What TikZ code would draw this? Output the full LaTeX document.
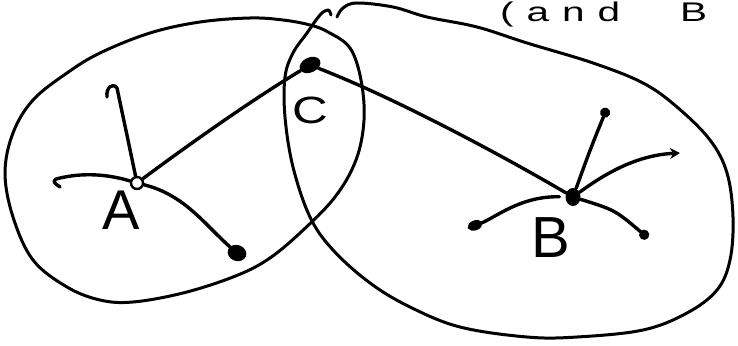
\documentclass[tikz,border=0pt]{standalone}
\usepackage{graphicx}
\usepackage{fontspec}
\setmainfont{Liberation Sans}
\usetikzlibrary{arrows.meta,shapes.geometric}
\begin{document}
\begin{tikzpicture}[x=1pt,y=-1pt,
  loopline/.style={line width=3pt, line cap=round, line join=round},
  edge/.style={line width=3.4pt, line cap=round, line join=round},
  blob/.style={fill=black, inner sep=0pt},
  lbl/.style={inner sep=0pt}]
\useasboundingbox (0,0) rectangle (738,345);
% left loop
\draw[loopline] plot[smooth cycle, tension=0.6] coordinates {
 (5,173) (13,133) (33,100) (67,73) (100,53) (150,33) (200,22) (250,18)
 (283,20) (310,25) (328,32) (350,48) (361,80) (364,120) (356,160) (335,197)
 (300,233) (267,260) (233,277) (183,293) (133,302) (100,300) (67,287)
 (33,260) (13,217)};
% right loop (open)
\draw[loopline] plot[smooth, tension=0.6] coordinates {
 (337,17) (343,8) (357,3) (393,7) (427,17) (477,27) (527,43) (593,63)
 (643,83) (677,107) (710,140) (727,173) (733,217) (730,260) (717,290)
 (687,313) (643,330) (577,337) (527,337) (460,327) (410,307) (370,283)
 (333,250) (310,217) (293,167) (285,117) (285,77) (293,53) (307,33)
 (320,15) (328,10) (331,15)};
% nodes
\node[circle, draw, line width=2.4pt, fill=white, inner sep=0pt, minimum size=12pt] (A) at (137,183) {};
\node[ellipse, blob, minimum width=22pt, minimum height=15pt, rotate=25] (C) at (310,65) {};
\node[ellipse, blob, minimum width=19pt, minimum height=16pt, rotate=-20] (D) at (237,253) {};
\node[ellipse, blob, minimum width=15pt, minimum height=18pt] (B) at (573,197) {};
\coordinate (a1) at (117,88);
\coordinate (a2) at (56,179);
\coordinate (b1) at (607,108);
\coordinate (b2) at (680,153);
\coordinate (b3) at (648,238);
\coordinate (b4) at (468,228);
% labels
\node[lbl, font=\fontsize{56}{56}\selectfont] (lA) at (121,210) {A};
\node[lbl, font=\fontsize{38}{38}\selectfont] (lC) at (310,110) {\scalebox{1.3}[1]{C}};
\node[lbl, font=\fontsize{58}{58}\selectfont] (lB) at (551,238) {B};
\node[lbl, anchor=base west, font=\fontsize{27}{27}\selectfont] (note) at (500,22) {\scalebox{1.5}[1]{\addfontfeature{LetterSpace=32}\spaceskip=40pt\relax (and B}};
% connectors from A
\draw[edge] (A) .. controls (128,140) .. (a1) .. controls (112,82) and (106,88) .. (107,97);
\draw[edge] (A) .. controls (100,172) and (75,174) .. (a2) .. controls (53,182) .. (60,187);
\draw[edge] (A) .. controls (185,195) and (205,225) .. (D);
\draw[edge] (A) .. controls (195,140) and (255,98) .. (C);
% C to B
\draw[edge] (C) .. controls (400,100) and (510,160) .. (B);
% connectors from B
\draw[edge, -{Circle[length=10pt]}] (B) .. controls (590,150) .. (b1);
\draw[edge, -{Stealth[length=10pt, width=11pt]}] (B) .. controls (610,170) and (640,155) .. (b2);
\draw[edge, -{Circle[length=10pt]}] (B) .. controls (615,210) .. (b3);
\draw[edge, shorten <=6pt, -{Ellipse[length=15pt, width=10pt]}] (B) .. controls (520,196) and (495,218) .. (b4);
\end{tikzpicture}
\end{document}
